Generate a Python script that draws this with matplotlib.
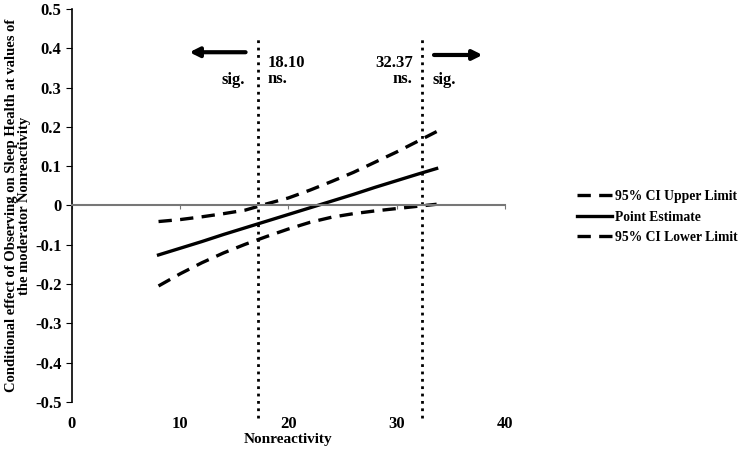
import matplotlib
matplotlib.use("Agg")
import matplotlib.pyplot as plt

plt.rcParams['font.family'] = 'Liberation Serif'
plt.rcParams['font.weight'] = 'bold'

# moderator values and conditional effects
nonreact = [8, 10, 12, 14, 16, 18, 20, 22, 24, 26, 28, 30, 32, 33.7]
point_est = [-0.126, -0.109, -0.092, -0.074, -0.057, -0.040, -0.023,
             -0.006, 0.011, 0.028, 0.046, 0.063, 0.080, 0.094]
ci_upper = [-0.041, -0.036, -0.029, -0.021, -0.012, 0.004, 0.019,
            0.039, 0.061, 0.084, 0.110, 0.136, 0.164, 0.188]
ci_lower = [-0.205, -0.174, -0.146, -0.121, -0.099, -0.079, -0.060,
            -0.043, -0.030, -0.021, -0.014, -0.008, -0.002, 0.003]

# Johnson-Neyman boundaries (drawn position / printed label)
jn_x = [17.2, 32.35]
jn_lab = ['18.10', '32.37']

xticks = [0, 10, 20, 30, 40]
yticks = [-0.5, -0.4, -0.3, -0.2, -0.1, 0, 0.1, 0.2, 0.3, 0.4, 0.5]
ylabs = ['-0.5', '-0.4', '-0.3', '-0.2', '-0.1', '0', '0.1', '0.2', '0.3', '0.4', '0.5']

fig = plt.figure(figsize=(7.45, 4.51), dpi=100)
ax = fig.add_axes([0.0966, 0.109, 0.581, 0.871])

ax.plot(nonreact, ci_upper, 'k--', lw=2.4, dashes=(4, 2.5), label='95% CI Upper Limit')
ax.plot(nonreact, point_est, 'k-', lw=2.4, label='Point Estimate')
ax.plot(nonreact, ci_lower, 'k--', lw=2.4, dashes=(4, 2.5), label='95% CI Lower Limit')

for xv in jn_x:
    ax.plot([xv, xv], [-0.54, 0.426], color='k', ls=':', lw=2.0, clip_on=False)

ax.set_xlim(0, 40)
ax.set_ylim(-0.5, 0.5)

# x axis drawn through zero, labels kept at the bottom
ax.spines['bottom'].set_position(('data', 0))
ax.spines['bottom'].set_color('#777777')
ax.spines['bottom'].set_linewidth(1.5)
ax.spines['top'].set_visible(False)
ax.spines['right'].set_visible(False)
ax.spines['left'].set_linewidth(1.2)
ax.set_xticks(xticks)
ax.tick_params(axis='x', direction='out', length=3, color='#777777', labelbottom=False)
ax.set_yticks(yticks)
ax.set_yticklabels(ylabs)
ax.tick_params(axis='y', direction='out', length=4, labelsize=12)

sec = ax.secondary_xaxis(0)
sec.set_xticks(xticks)
sec.spines['bottom'].set_visible(False)
sec.tick_params(length=0, labelsize=12, pad=10)
sec.set_xlabel('Nonreactivity', fontsize=11, fontweight='bold', labelpad=1)

ax.set_ylabel('Conditional effect of Observing on Sleep Health at values of\nthe moderator Nonreactivity',
              fontsize=10.5, fontweight='bold', labelpad=3, linespacing=0.95)

# significance arrows and labels
ax.annotate('', xy=(10.6, 0.39), xytext=(16.3, 0.39),
            arrowprops=dict(arrowstyle='-|>', color='k', lw=3, mutation_scale=14))
ax.annotate('', xy=(38.2, 0.383), xytext=(33.2, 0.383),
            arrowprops=dict(arrowstyle='-|>', color='k', lw=3, mutation_scale=14))
ax.text(16.0, 0.32, 'sig.', ha='right', va='center', fontsize=12)
ax.text(18.1, 0.341, jn_lab[0] + '\nns.', ha='left', va='center', fontsize=12, linespacing=1.0)
ax.text(31.5, 0.341, jn_lab[1] + '\nns.', ha='right', va='center', fontsize=12, linespacing=1.0,
        multialignment='right')
ax.text(33.3, 0.32, 'sig.', ha='left', va='center', fontsize=12)

ax.legend(loc='center left', bbox_to_anchor=(1.166, 0.47), frameon=False, fontsize=9.8,
          handlelength=2.6, handletextpad=0.2, labelspacing=0.55, borderpad=0, borderaxespad=0)

fig.savefig('out.png', dpi=100)
